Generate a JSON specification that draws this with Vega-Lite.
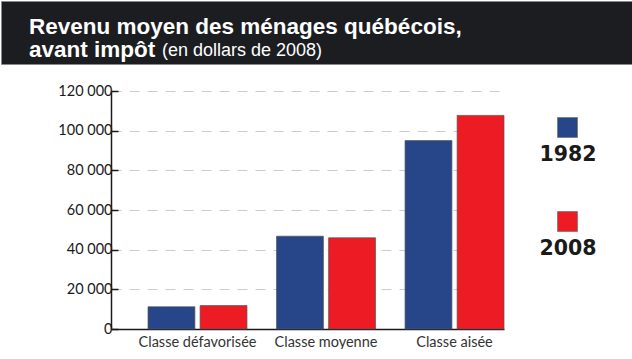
{
  "$schema": "https://vega.github.io/schema/vega-lite/v6.json",
  "padding": 0,
  "background": "white",
  "spacing": 18,
  "config": {"font": "Liberation Sans"},
  "vconcat": [
    {
      "width": 632,
      "height": 63,
      "view": {"fill": "#1c1d21", "stroke": "#8a8a8a", "strokeWidth": 1},
      "title": {
        "text": ["Revenu moyen des ménages québécois,", "avant impôt"],
        "subtitle": "(en dollars de 2008)",
        "anchor": "start",
        "frame": "group",
        "orient": "top",
        "offset": -60,
        "dx": 28,
        "color": "white",
        "font": "Liberation Sans",
        "fontSize": 22.5,
        "fontWeight": "bold",
        "lineHeight": 23,
        "subtitleColor": "white",
        "subtitleFont": "Liberation Sans",
        "subtitleFontSize": 18,
        "subtitlePadding": -19,
        "encode": {"subtitle": {"update": {"dx": {"value": 161}}}}
      },
      "data": {"values": [{"t": ""}]},
      "mark": {"type": "text"},
      "encoding": {"text": {"field": "t", "type": "nominal"}}
    },
    {
      "spacing": 0,
      "hconcat": [
        {
          "width": 1,
          "height": 238,
          "view": {"stroke": null},
          "data": {"values": [{"t": ""}]},
          "mark": {"type": "text"},
          "encoding": {"text": {"field": "t", "type": "nominal"}}
        },
        {
          "width": 393,
          "height": 238,
          "view": {"stroke": null},
          "data": {
            "values": [
              {"classe": "Classe défavorisée", "annee": "1982", "revenu": 11200},
              {"classe": "Classe défavorisée", "annee": "2008", "revenu": 11800},
              {"classe": "Classe moyenne", "annee": "1982", "revenu": 46800},
              {"classe": "Classe moyenne", "annee": "2008", "revenu": 46000},
              {"classe": "Classe aisée", "annee": "1982", "revenu": 95000},
              {"classe": "Classe aisée", "annee": "2008", "revenu": 107700}
            ]
          },
          "mark": {"type": "bar", "stroke": "#555", "strokeWidth": 0.7},
          "encoding": {
            "x": {
              "field": "classe",
              "type": "nominal",
              "sort": ["Classe défavorisée", "Classe moyenne", "Classe aisée"],
              "scale": {"paddingInner": 0.23, "paddingOuter": 0.144, "align": 1},
              "axis": {
                "title": null,
                "labelAngle": 0,
                "ticks": false,
                "domainColor": "#1a1a1a",
                "domainWidth": 1.5,
                "labelColor": "#333",
                "labelFont": "Lato",
                "labelFontSize": 14.5,
                "labelPadding": 6
              }
            },
            "xOffset": {"field": "annee", "type": "nominal", "scale": {"paddingInner": 0.1}},
            "y": {
              "field": "revenu",
              "type": "quantitative",
              "scale": {"domain": [0, 120000], "nice": false},
              "axis": {
                "title": null,
                "values": [0, 20000, 40000, 60000, 80000, 100000, 120000],
                "labelExpr": "replace(format(datum.value, ','), ',', ' ')",
                "tickSize": -7,
                "tickColor": "#1a1a1a",
                "tickWidth": 1.5,
                "domainColor": "#1a1a1a",
                "domainWidth": 1.5,
                "labelColor": "#1a1a1a",
                "labelFont": "Lato",
                "labelFontSize": 14.5,
                "labelPadding": 6,
                "grid": true,
                "gridColor": "#cccccc",
                "gridDash": [10, 8],
                "gridWidth": 1,
                "minExtent": 109
              }
            },
            "color": {
              "field": "annee",
              "type": "nominal",
              "scale": {"domain": ["1982", "2008"], "range": ["#27468a", "#ed1c24"]},
              "legend": {
                "title": null,
                "orient": "none",
                "legendX": 556,
                "legendY": 116,
                "direction": "vertical",
                "symbolType": "square",
                "symbolSize": 400,
                "symbolStrokeColor": "#666",
                "symbolStrokeWidth": 0.6,
                "symbolOpacity": 1,
                "labelFont": "DejaVu Sans",
                "labelFontWeight": "bold",
                "labelFontSize": 20.5,
                "labelColor": "#1a1a1a",
                "labelAlign": "center",
                "labelBaseline": "alphabetic",
                "labelOffset": -10,
                "rowPadding": 45,
                "encode": {"labels": {"update": {"dy": {"value": 33}}}}
              }
            }
          }
        }
      ]
    }
  ]
}
